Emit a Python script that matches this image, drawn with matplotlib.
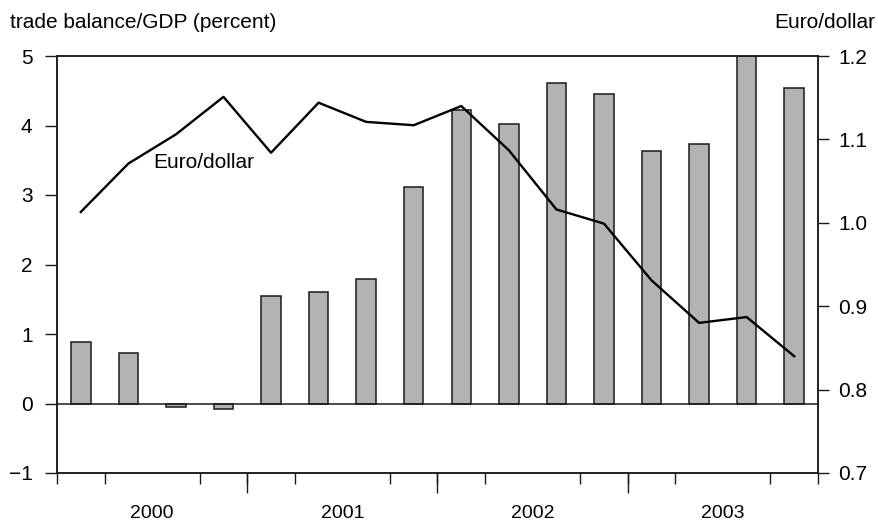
import matplotlib
matplotlib.use("Agg")
import matplotlib.pyplot as plt
import numpy as np

plt.rcParams['font.family'] = ['Liberation Sans', 'DejaVu Sans']

years = ["2000", "2001", "2002", "2003"]
quarters = ["2000Q1", "2000Q2", "2000Q3", "2000Q4",
            "2001Q1", "2001Q2", "2001Q3", "2001Q4",
            "2002Q1", "2002Q2", "2002Q3", "2002Q4",
            "2003Q1", "2003Q2", "2003Q3", "2003Q4"]
trade_balance = [0.89, 0.72, -0.05, -0.08, 1.54, 1.61, 1.79, 3.12,
                 4.23, 4.02, 4.61, 4.45, 3.64, 3.73, 5.0, 4.54]
euro_dollar = [1.013, 1.071, 1.106, 1.151, 1.084, 1.144, 1.121, 1.117,
               1.140, 1.087, 1.016, 0.999, 0.931, 0.880, 0.887, 0.840]

FS = 15
FS_YEAR = 14
FS_TXT = 15
fig = plt.figure(figsize=(8.79, 5.21), dpi=100)
ax = fig.add_axes([57/879, 1-473/521, (818-57)/879, (473-56)/521])

x = np.arange(len(quarters))
ax.bar(x, trade_balance, width=0.41, color='#b3b3b3', edgecolor='#1a1a1a',
       linewidth=1.1, zorder=2)
ax.axhline(0, color='#1a1a1a', linewidth=1.1, zorder=3)
ax.set_xlim(-0.5, len(quarters) - 0.5)
ax.set_ylim(-1, 5)
ax.set_yticks(range(-1, 6))
ax.set_yticklabels(['\u22121', '0', '1', '2', '3', '4', '5'])
ax.tick_params(axis='y', direction='out', length=8.6, width=1.0, pad=9,
               labelsize=FS, color='#1a1a1a')

# year labels as major ticks (no tick marks), quarter boundaries as minor ticks
year_centers = [4 * i + 1.5 for i in range(len(years))]
ax.set_xticks(year_centers)
ax.set_xticklabels(years)
ax.tick_params(axis='x', which='major', length=0, pad=23, labelsize=FS_YEAR)
ax.set_xticks(np.arange(-0.5, len(quarters), 1.0), minor=True)
ax.tick_params(axis='x', which='minor', direction='out', length=8, width=1.0,
               color='#1a1a1a')
sec = ax.secondary_xaxis('bottom')
sec.set_xticks([3.5, 7.5, 11.5])
sec.set_xticklabels(['', '', ''])
sec.tick_params(axis='x', direction='out', length=14.5, width=1.0, color='#1a1a1a')
sec.spines['bottom'].set_visible(False)

for s in ax.spines.values():
    s.set_linewidth(1.1)
    s.set_color('#1a1a1a')

ax2 = ax.twinx()
ax2.plot(x, euro_dollar, color='black', linewidth=1.7, zorder=4)
ax2.set_ylim(0.7, 1.2)
ax2.set_yticks([0.7, 0.8, 0.9, 1.0, 1.1, 1.2])
ax2.set_yticklabels(['0.7', '0.8', '0.9', '1.0', '1.1', '1.2'])
ax2.tick_params(axis='y', direction='out', length=8, width=1.0, pad=6.5,
                labelsize=FS, color='#1a1a1a')
for s in ax2.spines.values():
    s.set_linewidth(1.1)
    s.set_color('#1a1a1a')

ax.text(1.52, 3.47, 'Euro/dollar', fontsize=FS_TXT, ha='left', va='center', zorder=5)

fig.text(10/879, 1 - 22/521, 'trade balance/GDP (percent)', fontsize=FS_TXT,
         ha='left', va='center')
fig.text(875/879, 1 - 22/521, 'Euro/dollar', fontsize=FS_TXT, ha='right', va='center')

fig.savefig('out.png', dpi=100)
